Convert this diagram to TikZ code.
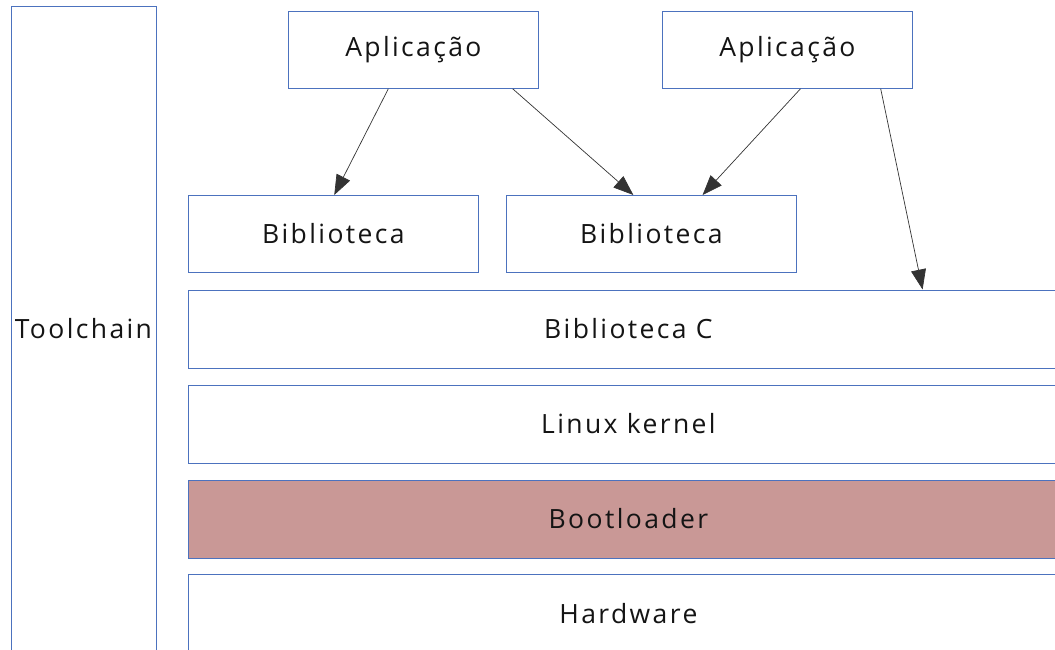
\documentclass[tikz,border=0pt]{standalone}
\usepackage{fontspec}
\setmainfont[LetterSpace=9]{Open Sans}
\usetikzlibrary{arrows.meta,calc}
\definecolor{boxblue}{RGB}{76,114,190}
\definecolor{bootfill}{RGB}{201,152,150}
\definecolor{arrowgray}{RGB}{51,51,51}
\definecolor{txt}{RGB}{20,20,20}
\begin{document}
\begin{tikzpicture}[x=1pt,y=-1pt,
  box/.style={draw=boxblue,line width=0.8pt,fill=white,anchor=north west,inner sep=0pt,
    font=\fontsize{26.5}{30}\selectfont,text=txt},
  conn/.style={draw=arrowgray,line width=0.7pt,-{Triangle[length=20pt,width=15pt]}}]
\clip (0,0) rectangle (1055,649);
\node[box,minimum width=145pt,minimum height=646pt] (tool) at (10.5,5.5) {Toolchain};
\node[box,minimum width=250pt,minimum height=77pt] (app1) at (288,11) {Aplicação};
\node[box,minimum width=250pt,minimum height=77pt] (app2) at (662,11) {Aplicação};
\node[box,minimum width=290pt,minimum height=77pt] (bib1) at (188,195) {Biblioteca};
\node[box,minimum width=290pt,minimum height=77pt] (bib2) at (506,195) {Biblioteca};
\node[box,minimum width=880pt,minimum height=78pt] (bibc) at (188,289.5) {Biblioteca C};
\node[box,minimum width=880pt,minimum height=78pt] (kern) at (188,384.5) {Linux kernel};
\node[box,fill=bootfill,minimum width=880pt,minimum height=78pt] (boot) at (188,479.5) {Bootloader};
\node[box,minimum width=880pt,minimum height=78pt] (hw) at (188,574) {Hardware};
\draw[conn] ($(app1.south west)!0.4!(app1.south east)$) -- ($(bib1.north west)!0.503!(bib1.north east)$);
\draw[conn] ($(app1.south west)!0.896!(app1.south east)$) -- ($(bib2.north west)!0.438!(bib2.north east)$);
\draw[conn] ($(app2.south west)!0.552!(app2.south east)$) -- ($(bib2.north west)!0.676!(bib2.north east)$);
\draw[conn] ($(app2.south west)!0.872!(app2.south east)$) -- ($(bibc.north west)!0.834!(bibc.north east)$);
\end{tikzpicture}
\end{document}
